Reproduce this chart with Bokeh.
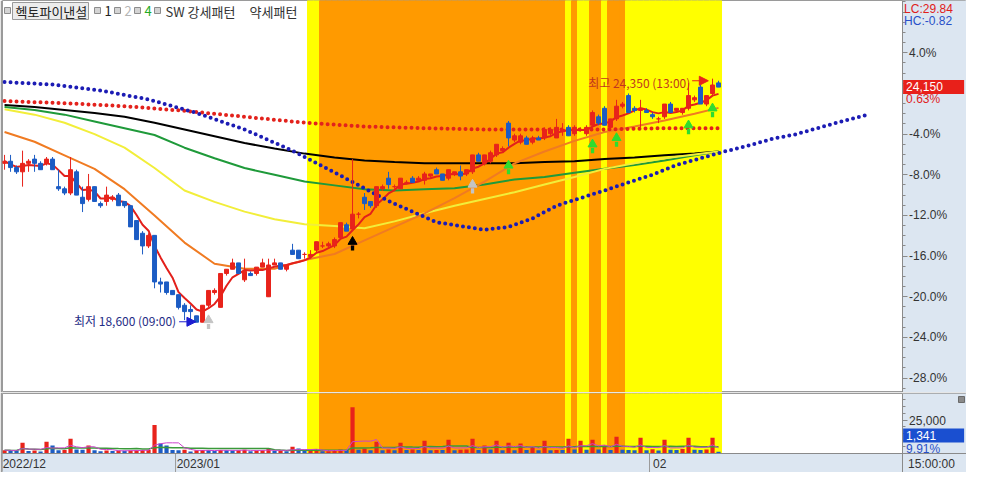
import numpy as np
import pandas as pd
from bokeh.plotting import figure
from bokeh.layouts import column
from bokeh.models import (Range1d, FixedTicker, CustomJSTickFormatter, NumeralTickFormatter,
                          Label, Arrow, NormalHead, BoxAnnotation)
from bokeh.embed import file_html
from bokeh.resources import INLINE

BASE = 24000  # 0% reference price

opens = [22350, 22400, 22250, 22150, 22350, 22450, 22350, 22350, 22450, 21800,
         21750, 21650, 22150, 21550, 21500, 21800, 21400, 21450, 21500, 21600,
         21450, 21350, 21000, 20700, 20400, 20650, 19550, 19550, 19350, 19250,
         19000, 18900, 18750, 18600, 19000, 19300, 18950, 19750, 19850, 20000,
         19600, 19750, 19750, 19900, 19200, 19950, 20000, 19850, 20300, 20300,
         20200, 20150, 20300, 20400, 20400, 20400, 20600, 20900, 20800, 21150,
         21550, 21450, 21350, 21750, 22000, 21800, 21750, 21900, 22000, 21950,
         21950, 22050, 22200, 22100, 22000, 22100, 22150, 22100, 22150, 22550,
         22350, 22400, 22550, 22650, 23300, 22900, 22850, 22950, 22850, 22950,
         22950, 23050, 22950, 23100, 23200, 23050, 23150, 23050, 23250, 23450,
         23650, 23200, 23400, 23700, 23950, 23650, 23600, 23600, 23500, 23400,
         23450, 23750, 23600, 23550, 23650, 23850, 24150, 23750, 24000, 24250]
highs = [22550, 22550, 22300, 22650, 22450, 22550, 22400, 22500, 22500, 22200,
         21800, 22500, 22200, 21800, 22100, 21800, 21450, 21800, 21600, 21650,
         21450, 21350, 21000, 20750, 20700, 20650, 19650, 19550, 19350, 19250,
         19050, 19000, 18750, 19000, 19350, 19400, 19750, 19850, 20100, 20000,
         20100, 19800, 19900, 20100, 20100, 20100, 20000, 19950, 20450, 20300,
         20250, 20300, 20500, 20500, 20500, 20600, 20950, 20950, 22450, 21200,
         21650, 21450, 21800, 21850, 22150, 21850, 22000, 21950, 22050, 22050,
         22150, 22100, 22250, 22100, 22200, 22150, 22300, 22200, 22550, 22600,
         22550, 22650, 22800, 22750, 23350, 23050, 23050, 23000, 23000, 23000,
         23200, 23200, 23400, 23300, 23250, 23250, 23200, 23250, 23600, 23500,
         23700, 23400, 23850, 23800, 24000, 23700, 23850, 23650, 23550, 23450,
         23750, 23800, 23650, 23650, 24250, 23950, 24200, 23950, 24350, 24300]
lows = [22200, 22150, 22100, 21800, 22150, 22150, 22200, 22300, 22200, 21700,
        21600, 21600, 21600, 21200, 21450, 21450, 21300, 21350, 21450, 21350,
        21300, 20850, 20550, 20200, 20350, 19400, 19300, 19250, 19250, 18900,
        18650, 18650, 18600, 18600, 18950, 19250, 18950, 19700, 19850, 19750,
        19550, 19700, 19700, 19900, 19200, 19950, 19850, 19800, 20200, 20100,
        20100, 20100, 20250, 20350, 20350, 20350, 20600, 20750, 20750, 21050,
        21250, 21300, 21300, 21700, 21750, 21750, 21750, 21850, 21900, 21950,
        21850, 22000, 22100, 21950, 21950, 22050, 21950, 22050, 22100, 22400,
        22300, 22350, 22500, 22600, 22750, 22850, 22800, 22800, 22800, 22900,
        22900, 23000, 22950, 23000, 23000, 23000, 23100, 23000, 23200, 23250,
        23250, 23150, 23350, 23650, 23550, 23550, 23200, 23550, 23400, 23300,
        23400, 23550, 23550, 23500, 23600, 23800, 23750, 23700, 23950, 24150]
closes = [22400, 22250, 22150, 22350, 22400, 22350, 22200, 22450, 22200, 21750,
          21650, 22200, 21600, 21400, 21800, 21450, 21350, 21600, 21550, 21350,
          21350, 20850, 20550, 20400, 20650, 19550, 19500, 19300, 19250, 18950,
          18850, 18850, 18600, 19000, 19350, 19350, 19750, 19850, 20000, 19750,
          19800, 19700, 19900, 20000, 19950, 20000, 19850, 19950, 20200, 20100,
          20200, 20200, 20500, 20400, 20450, 20550, 20950, 20750, 21150, 21150,
          21400, 21350, 21800, 21800, 21850, 21800, 22000, 21900, 21900, 22000,
          22100, 22100, 22100, 21950, 22200, 22150, 22050, 22200, 22550, 22400,
          22550, 22600, 22800, 22700, 22950, 23000, 23000, 22800, 22950, 22900,
          23150, 23150, 23200, 23150, 23000, 23200, 23150, 23200, 23550, 23300,
          23250, 23400, 23700, 23750, 23550, 23600, 23650, 23550, 23450, 23400,
          23750, 23550, 23650, 23650, 23950, 23900, 23750, 23950, 24200, 24150]
volumes = [2500, 2200, 2000, 8000, 1800, 2300, 1500, 8800, 5900, 2400,
           2600, 11000, 3000, 2800, 5900, 2400, 1600, 2300, 1900, 2200,
           2000, 2300, 2500, 2600, 2700, 21300, 7400, 5900, 2600, 2500,
           2800, 1500, 2400, 2600, 2500, 1800, 2700, 2400, 2300, 2500,
           2800, 1600, 2200, 2500, 3500, 1800, 2000, 1700, 5100, 3700,
           2000, 2200, 2900, 1600, 1700, 2500, 3000, 2600, 34500, 2800,
           3600, 2500, 8800, 2500, 3000, 2400, 8100, 2700, 3000, 2600,
           9600, 2500, 2700, 2600, 10300, 2500, 2800, 3000, 11000, 2600,
           5900, 3000, 9600, 2500, 8100, 2400, 7400, 2600, 5100, 2400,
           9600, 2500, 2700, 2600, 11000, 3000, 9600, 2800, 10300, 3000,
           5900, 2700, 12500, 2800, 2600, 2500, 11800, 2400, 3100, 2200,
           10300, 2800, 2600, 3400, 11800, 2800, 2600, 3000, 11800, 1341]
# pattern signal per candle: 0 none, 1 weak pattern (yellow), 2 strong pattern (orange)
pattern = ([0] * 51 + [1, 1] + [2] * 41 + [1, 2, 1, 1, 2, 2, 1, 2, 2, 2] + [1] * 16)

ma_idx = [0, 5, 10, 15, 20, 25, 30, 35, 40, 45, 50, 55, 60, 65, 70, 75, 80, 85, 90, 95, 100, 105, 110, 115, 119]
ma20 = [23090, 22860, 22540, 22220, 21740, 21120, 20480, 19980, 19860, 19860, 20070, 20210, 20530,
        20850, 21170, 21530, 21920, 22350, 22630, 22880, 23090, 23220, 23360, 23520, 23660]
ma60 = [23630, 23500, 23310, 23040, 22720, 22240, 21710, 21440, 21210, 21030, 20910, 20870, 20820,
        20980, 21170, 21350, 21510, 21670, 21850, 22030, 22220, 22350, 22470, 22560, 22630]
ma120 = [23680, 23610, 23500, 23340, 23180, 23020, 22720, 22470, 22240, 22080, 21920, 21830, 21740,
         21710, 21740, 21760, 21850, 21970, 22030, 22130, 22220, 22310, 22420, 22540, 22630]
ma240 = [23730, 23680, 23610, 23540, 23450, 23310, 23150, 22990, 22830, 22700, 22580, 22490, 22420,
         22380, 22350, 22350, 22350, 22350, 22380, 22400, 22450, 22490, 22540, 22580, 22630]
red_dot_idx = [0, 10, 20, 30, 40, 50, 60, 70, 80, 90, 100, 110, 119]
red_dot = [23820, 23770, 23700, 23590, 23450, 23310, 23220, 23180, 23150, 23150, 23150, 23180, 23180]
blue_dot_idx = [0, 8, 16, 24, 32, 40, 48, 56, 64, 72, 80, 84, 88, 92, 96, 100, 104, 108, 112, 116,
                120, 124, 128, 132, 136, 140, 144]
blue_dot = [24270, 24210, 24070, 23860, 23540, 23150, 22650, 22060, 21460, 20960, 20780, 20850,
            21050, 21350, 21530, 21710, 21900, 22080, 22310, 22470, 22630, 22770, 22930, 23040,
            23200, 23360, 23500]

signal_idx = [34, 58, 78, 84, 98, 102, 114, 118]
signal_price = [18650, 20500, 21850, 22300, 22800, 22950, 23250, 23650]
signal_color = ["#c4c4c4", "#000000", "#c4c4c4", "#2fdc2f", "#2fdc2f", "#2fdc2f", "#2fdc2f", "#2fdc2f"]

high_text = "최고 24,350 (13:00)"
low_text = "최저 18,600 (09:00)"
date_ticks = [3.3, 32.3, 109.2]
date_labels = ["2022/12", "2023/01", "02"]
month_breaks = [28.5, 107.5]
pct_ticks = [4, -4, -8, -12, -16, -20, -24, -28]

RED = "#e8231b"
BLUE = "#1c5cc4"
AXIS_BG = "#dce6f1"
KFONT = "Noto Sans CJK KR"
NFONT = "Liberation Sans"

n = len(closes)
idx = np.arange(n)
o = np.array(opens); c = np.array(closes); h = np.array(highs); l = np.array(lows)
ccol = [RED if c[i] >= o[i] else BLUE for i in idx]

YMIN, YMAX = 16940, 26195
XMIN, XMAX = -0.34, 160.33
AX = 149.6  # position of the right price axis
FW, FH = 964, 392


def style_axis(ax):
    ax.axis_line_color = "#8a8a8a"
    ax.major_tick_line_color = "#8a8a8a"
    ax.minor_tick_line_color = "#8a8a8a"
    ax.major_tick_out = 5
    ax.major_tick_in = 0
    ax.minor_tick_out = 3
    ax.minor_tick_in = 0
    ax.major_label_standoff = 2
    ax.major_label_text_font = NFONT
    ax.major_label_text_font_size = "12px"
    ax.major_label_text_color = "#333333"


p = figure(frame_width=FW, frame_height=FH, x_range=Range1d(XMIN, XMAX), y_range=Range1d(YMIN, YMAX),
           y_axis_location="right", x_axis_location=None, toolbar_location=None, output_backend="svg",
           min_border_left=2, min_border_right=0, min_border_top=0, min_border_bottom=0,
           background_fill_color="white", border_fill_color="#9a9a9a", outline_line_color="#9a9a9a")
p.grid.visible = False

# axis area background
p.quad(left=AX, right=XMAX, bottom=YMIN, top=YMAX, fill_color=AXIS_BG, line_color=None, level="underlay")

band_col = {1: "#ffff00", 2: "#ff9a00"}
bi = [i for i in idx if pattern[i]]
bc = [band_col[pattern[i]] for i in bi]
p.quad(left=[i - 0.5 for i in bi], right=[i + 0.5 for i in bi], bottom=YMIN, top=YMAX,
       fill_color=bc, line_color=bc, line_width=1)

p.line(ma_idx, ma240, line_color="#000000", line_width=2)
p.line(ma_idx, ma120, line_color="#1f9a3a", line_width=2)
p.line(ma_idx, ma60, line_color="#f2ee3a", line_width=2)
p.line(ma_idx, ma20, line_color="#f07b22", line_width=2)
ma5 = pd.Series(closes).rolling(5, min_periods=1).mean()
p.line(idx, ma5, line_color="#e3201b", line_width=2)

p.line(red_dot_idx, red_dot, line_color="#e3221c", line_width=4, line_dash="0 6", line_cap="round")
p.line(blue_dot_idx, blue_dot, line_color="#1c1cb4", line_width=4, line_dash="0 6", line_cap="round")

p.segment(x0=idx, y0=l, x1=idx, y1=h, line_color=ccol, line_width=1)
p.vbar(x=idx, width=0.66, top=np.maximum(o, c), bottom=np.minimum(o, c),
       fill_color=ccol, line_color=ccol, line_width=1)

p.scatter(x=signal_idx, y=signal_price, marker="triangle", size=9, fill_color=signal_color,
          line_color=signal_color)
p.rect(x=signal_idx, y=[v - 150 for v in signal_price], width=0.55, height=120,
       fill_color=signal_color, line_color=None)

# high / low annotations
p.add_layout(Label(x=114.3, y=24260, text=high_text, text_align="right", text_baseline="middle",
                   text_color="#c2361e", text_font=KFONT, text_font_size="12px"))
p.add_layout(Arrow(x_start=114.6, y_start=24300, x_end=117.3, y_end=24300, line_color="#e8231b",
                   line_width=1, end=NormalHead(size=9, fill_color="#e8231b", line_color="#e8231b")))
p.add_layout(Label(x=28.6, y=18630, text=low_text, text_align="right", text_baseline="middle",
                   text_color="#1f2d86", text_font=KFONT, text_font_size="12px"))
p.add_layout(Arrow(x_start=29.1, y_start=18610, x_end=31.9, y_end=18610, line_color="#1c1cd0",
                   line_width=1, end=NormalHead(size=9, fill_color="#1c1cd0", line_color="#1c1cd0")))


# legend row (screen units from frame bottom-left)
def sq(x0):
    p.add_layout(BoxAnnotation(left=x0, right=x0 + 6, bottom=FH - 13, top=FH - 7,
                               left_units="screen", right_units="screen", bottom_units="screen",
                               top_units="screen", fill_color="#d4d4d4", fill_alpha=1,
                               line_color="#8c8c8c", line_alpha=1, line_width=1))


sq(2)
p.add_layout(BoxAnnotation(left=10, right=86, bottom=FH - 19, top=FH - 2, left_units="screen",
                           right_units="screen", bottom_units="screen", top_units="screen",
                           fill_color="#ececec", fill_alpha=1, line_color="#9a9a9a", line_alpha=1))
legend_items = [(13, "헥토파이낸셜", "#222222"), (102, "1", "#222222"), (122, "2", "#b4b4b4"),
                (142, "4", "#22aa22"), (163, "SW 강세패턴", "#333333"), (247, "약세패턴", "#333333")]
for xx, tt, cc in legend_items:
    p.add_layout(Label(x=xx, y=FH - 10.5, x_units="screen", y_units="screen", text=tt,
                       text_align="left", text_baseline="middle", text_color=cc,
                       text_font=KFONT, text_font_size="13px"))
for x0 in (92, 112, 132, 152):
    sq(x0)

# right price axis, drawn inside the frame at a fixed position
p.yaxis.fixed_location = AX
p.yaxis.ticker = FixedTicker(ticks=[BASE * (100 + k) / 100 for k in pct_ticks],
                             minor_ticks=[BASE * (100 + k) / 100 for k in range(-29, 10)])
p.yaxis.formatter = CustomJSTickFormatter(args=dict(base=BASE),
                                          code="return ((tick/base-1)*100).toFixed(1) + '%'")
style_axis(p.yaxis)

RX = (AX - XMIN) * FW / (XMAX - XMIN)  # screen x of the axis line inside the frame
p.add_layout(Label(x=RX + 2, y=FH - 8, x_units="screen", y_units="screen", text="LC:29.84",
                   text_align="left", text_baseline="middle", text_color="#e0201a",
                   text_font=NFONT, text_font_size="12px"))
p.add_layout(Label(x=RX + 2, y=FH - 20, x_units="screen", y_units="screen", text="HC:-0.82",
                   text_align="left", text_baseline="middle", text_color="#2850c8",
                   text_font=NFONT, text_font_size="12px"))
p.add_layout(BoxAnnotation(left=RX + 1, right=RX + 62, bottom=23990, top=24320, left_units="screen",
                           right_units="screen", fill_color="#e8201a", fill_alpha=1, line_color=None))
p.add_layout(Label(x=RX + 4, y=24155, x_units="screen", text="24,150", text_align="left",
                   text_baseline="middle", text_color="white", text_font=NFONT, text_font_size="12px"))
p.add_layout(Label(x=RX + 4, y=23860, x_units="screen", text="0.63%", text_align="left",
                   text_baseline="middle", text_color="#e0201a", text_font=NFONT, text_font_size="12px"))

# volume panel (frame also holds the date strip below zero)
VMAX = 44850
VMIN = -14200
v = figure(frame_width=FW, frame_height=79, x_range=p.x_range, y_range=Range1d(VMIN, VMAX),
           y_axis_location="right", toolbar_location=None, output_backend="svg",
           min_border_left=2, min_border_right=0, min_border_top=1, min_border_bottom=0,
           background_fill_color="white", border_fill_color="#9a9a9a", outline_line_color="#9a9a9a")
v.grid.visible = False
v.quad(left=AX, right=XMAX, bottom=VMIN, top=VMAX, fill_color=AXIS_BG, line_color=None, level="underlay")
v.quad(left=XMIN, right=XMAX, bottom=VMIN, top=0, fill_color=AXIS_BG, line_color=None, level="underlay")
v.quad(left=[i - 0.5 for i in bi], right=[i + 0.5 for i in bi], bottom=0, top=VMAX,
       fill_color=bc, line_color=bc, line_width=1)
vol = np.array(volumes)
vcol = [RED if (i == 0 or vol[i] >= vol[i - 1]) else BLUE for i in idx]
v.vbar(x=idx, width=0.7, top=vol, bottom=0, fill_color=vcol, line_color=None)
v.line(idx, pd.Series(volumes).rolling(20, min_periods=1).mean(), line_color="#3a9a3a", line_width=1.5)
v.line(idx, pd.Series(volumes).rolling(5, min_periods=1).mean(), line_color="#cc44cc", line_width=1)
v.segment(x0=month_breaks, y0=VMIN, x1=month_breaks, y1=0, line_color="#9a9a9a", line_width=1)

v.yaxis.fixed_location = AX
v.yaxis.ticker = FixedTicker(ticks=[25000], minor_ticks=[5000 * k for k in range(1, 9)])
v.yaxis.formatter = NumeralTickFormatter(format="0,0")
style_axis(v.yaxis)
v.xaxis.fixed_location = 0
v.xaxis.ticker = FixedTicker(ticks=date_ticks)
v.xaxis.formatter = CustomJSTickFormatter(args=dict(labels=date_labels), code="return labels[index]")
v.xaxis.axis_line_color = "#8a8a8a"
v.xaxis.major_tick_out = 0
v.xaxis.major_tick_in = 0
v.xaxis.minor_tick_line_color = None
v.xaxis.major_label_standoff = 3
v.xaxis.major_label_text_font = NFONT
v.xaxis.major_label_text_font_size = "12px"
v.xaxis.major_label_text_color = "#333333"

VF0 = 19  # height of the date strip in the volume frame
v.add_layout(BoxAnnotation(left=RX + 1, right=RX + 62, bottom=VF0 + 11, top=VF0 + 25, left_units="screen",
                           right_units="screen", bottom_units="screen", top_units="screen",
                           fill_color="#1a4fd0", fill_alpha=1, line_color=None))
v.add_layout(Label(x=RX + 4, y=VF0 + 18, x_units="screen", y_units="screen", text="1,341",
                   text_align="left", text_baseline="middle", text_color="white",
                   text_font=NFONT, text_font_size="12px"))
v.add_layout(Label(x=RX + 4, y=VF0 + 5, x_units="screen", y_units="screen", text="9.91%",
                   text_align="left", text_baseline="middle", text_color="#2850c8",
                   text_font=NFONT, text_font_size="12px"))
v.add_layout(Label(x=RX + 6, y=9, x_units="screen", y_units="screen", text="15:00:00",
                   text_align="left", text_baseline="middle", text_color="#333333",
                   text_font=NFONT, text_font_size="12px"))
v.add_layout(BoxAnnotation(left=FW - 8, right=FW - 2, bottom=VF0 + 51, top=VF0 + 57, left_units="screen",
                           right_units="screen", bottom_units="screen", top_units="screen",
                           fill_color="#8a8a8a", fill_alpha=1, line_color="#6a6a6a", line_alpha=1))

layout = column(p, v, spacing=0)
open("out.html", "w").write(file_html(layout, INLINE))
